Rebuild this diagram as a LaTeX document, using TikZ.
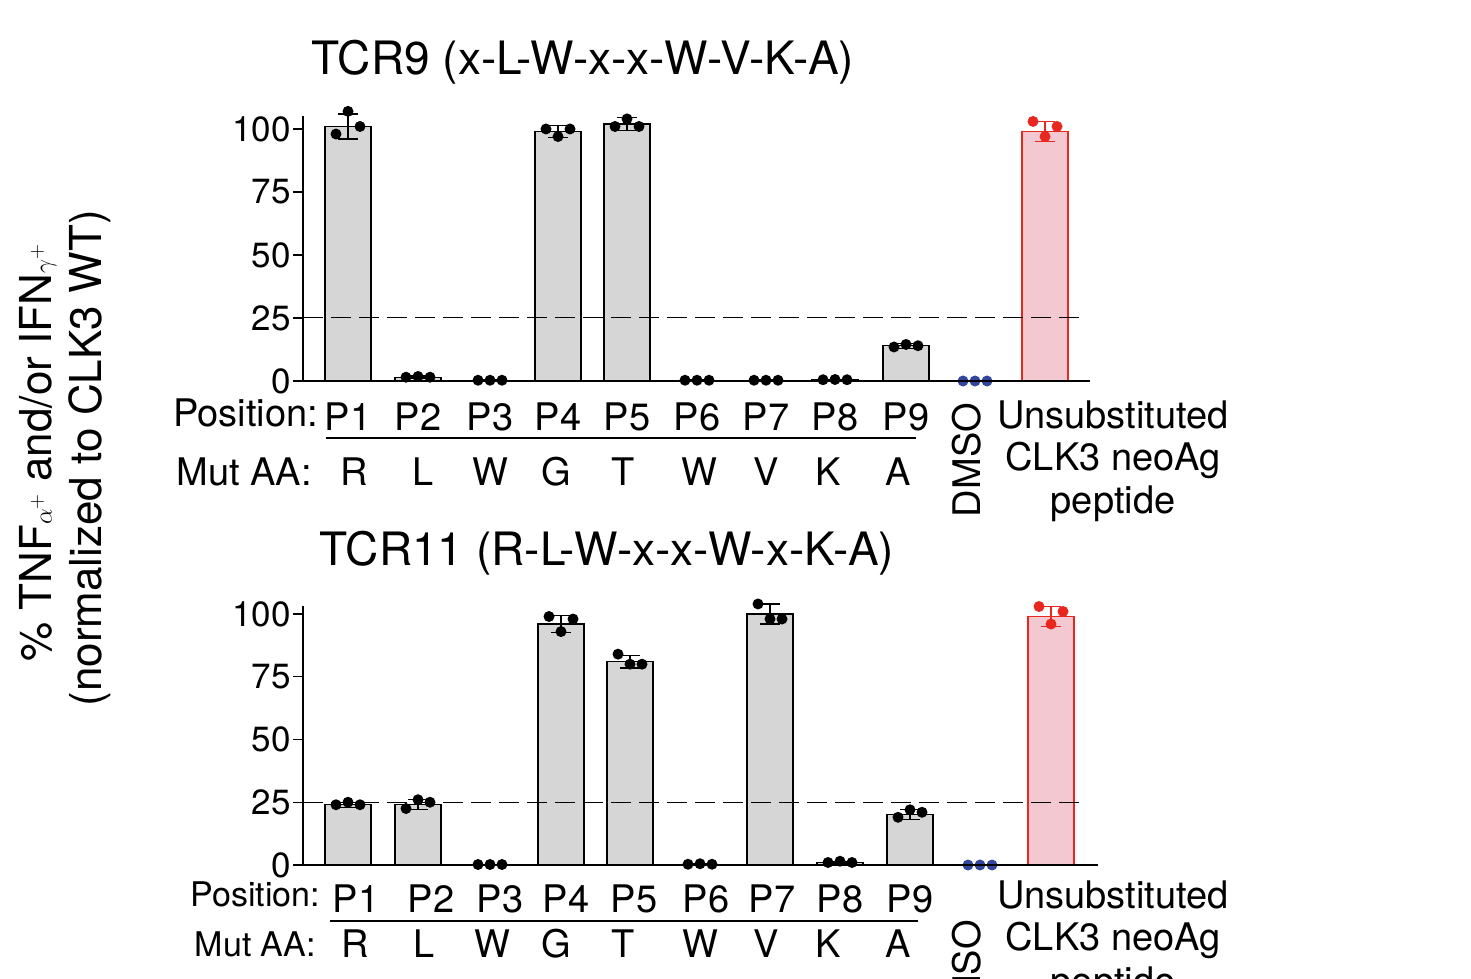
\documentclass[tikz,border=0pt]{standalone}
\usepackage{fontspec}
\setmainfont{TeX Gyre Heros}
\definecolor{barg}{RGB}{214,214,214}
\definecolor{pinkf}{RGB}{244,200,208}
\definecolor{redd}{RGB}{232,40,30}
\definecolor{blued}{RGB}{50,70,160}
\newcommand\mybar[8]{% x, mean, sd, d1,d2,d3, fill, edge/dot color
  \fill[#7] (#1-23,0) rectangle (#1+23,#2);
  \draw[#8,line width=1.3pt] (#1-23,0) -- (#1-23,#2) -- (#1+23,#2) -- (#1+23,0);
  \draw[#8,line width=1.3pt] (#1,#2-#3) -- (#1,#2+#3) (#1-10,#2-#3) -- (#1+10,#2-#3) (#1-10,#2+#3) -- (#1+10,#2+#3);
  \fill[#8] (#1-12,#4) circle[x=1pt,y=1pt,radius=5.5] (#1,#5) circle[x=1pt,y=1pt,radius=5.5] (#1+12,#6) circle[x=1pt,y=1pt,radius=5.5];
}
\newcommand\mydots[5]{\fill[#5] (#1-12,#2) circle[x=1pt,y=1pt,radius=5.5] (#1,#3) circle[x=1pt,y=1pt,radius=5.5] (#1+12,#4) circle[x=1pt,y=1pt,radius=5.5];}
\tikzset{tick/.style={font=\fontsize{35}{38}\selectfont,anchor=east,inner sep=2pt},
lab/.style={font=\fontsize{38}{42}\selectfont,inner sep=0pt},
ylab/.style={font=\fontsize{44}{48}\selectfont,inner sep=0pt},
ttl/.style={font=\fontsize{46}{50}\selectfont,inner sep=0pt}}
\begin{document}
\begin{tikzpicture}[x=1pt,y=1pt]
\useasboundingbox[fill=white] (0,0) rectangle (1471,978);
% y label
\node[ylab,rotate=90] (yl1) at (38,525) {\% TNF$\alpha^{\scriptscriptstyle +}$ and/or IFN$\gamma^{\scriptscriptstyle +}$};
\node[ylab,rotate=90] (yl2) at (90,520) {(normalized to CLK3 WT)};
% ===== top
\node[ttl] (t1) at (583,916) {TCR9 (x-L-W-x-x-W-V-K-A)};
\begin{scope}[shift={(0,597)},y=2.52pt]
\mybar{348}{101}{5}{98}{107}{101}{barg}{black}
\mybar{418}{1.5}{0.5}{1.5}{1.8}{1.5}{barg}{black}
\mybar{490}{0.3}{0.1}{0.3}{0.3}{0.3}{barg}{black}
\mybar{558}{99}{2.5}{100}{97}{100}{barg}{black}
\mybar{627}{102}{2.5}{101}{104}{101}{barg}{black}
\mybar{697}{0.3}{0.1}{0.3}{0.3}{0.3}{barg}{black}
\mybar{766}{0.3}{0.1}{0.3}{0.3}{0.3}{barg}{black}
\mybar{835}{0.5}{0.2}{0.5}{0.6}{0.5}{barg}{black}
\mybar{906}{14}{1}{13.5}{14.5}{14}{barg}{black}
\mydots{975}{0}{0}{0}{blued}
\mybar{1045}{99}{4}{103}{97}{101}{pinkf}{redd}
\draw[line width=1.3pt] (303,105) -- (303,0) -- (1090,0);
\foreach \v in {0,25,50,75,100}{\draw[line width=1.3pt] (303,\v) -- (293,\v); \node[tick] at (293,\v) {\v};}
\draw[dash pattern=on 20pt off 8pt,line width=1pt] (303,25) -- (1085,25);
\end{scope}
\node[lab,anchor=east] (pos1) at (318,565) {Position:};
\foreach \x/\t in {348/P1,418/P2,490/P3,558/P4,627/P5,697/P6,766/P7,835/P8,906/P9}{\node[lab] at (\x,561) {\t};}
\draw[line width=1.3pt] (326,540) -- (916,540);
\node[lab,anchor=east] (mut1) at (312,506) {Mut AA:};
\foreach \x/\t in {354/R,423/L,490/W,556/G,623/T,699/W,766/V,828/K,898/A}{\node[lab] at (\x,506) {\t};}
\node[lab,rotate=90] (dm1) at (967,518) {DMSO};
\node[lab] (u1) at (1113,563) {Unsubstituted};
\node[lab] (u2) at (1113,518) {CLK3 neoAg};
\node[lab] (u3) at (1113,474) {peptide};
% ===== bottom
\node[ttl] (t2) at (607,425) {TCR11 (R-L-W-x-x-W-x-K-A)};
\begin{scope}[shift={(0,113)},y=2.51pt]
\mybar{348}{24}{1}{24}{25}{24}{barg}{black}
\mybar{418}{24}{2}{22.5}{26}{25}{barg}{black}
\mybar{490}{0.2}{0.1}{0.2}{0.2}{0.2}{barg}{black}
\mybar{561}{96}{3.5}{99}{93}{98}{barg}{black}
\mybar{630}{81}{2.5}{84}{80}{80}{barg}{black}
\mybar{700}{0.3}{0.1}{0.3}{0.5}{0.3}{barg}{black}
\mybar{770}{100}{4}{104}{98}{98}{barg}{black}
\mybar{840}{1}{0.4}{1}{1.5}{1}{barg}{black}
\mybar{910}{20}{2}{19}{22}{21}{barg}{black}
\mydots{980}{0}{0}{0}{blued}
\mybar{1051}{99}{4}{103}{96}{101}{pinkf}{redd}
\draw[line width=1.3pt] (303,103) -- (303,0) -- (1098,0);
\foreach \v in {0,25,50,75,100}{\draw[line width=1.3pt] (303,\v) -- (293,\v); \node[tick] at (293,\v) {\v};}
\draw[dash pattern=on 20pt off 8pt,line width=1pt] (303,25) -- (1085,25);
\end{scope}
\node[lab,anchor=east,font=\fontsize{34}{38}\selectfont] (pos2) at (320,84) {Position:};
\foreach \x/\t in {356/P1,431/P2,500/P3,566/P4,634/P5,706/P6,772/P7,840/P8,910/P9}{\node[lab] at (\x,79) {\t};}
\draw[line width=1.3pt] (330,57) -- (918,57);
\node[lab,anchor=east,font=\fontsize{34}{38}\selectfont] (mut2) at (316,34) {Mut AA:};
\foreach \x/\t in {355/R,424/L,492/W,556/G,623/T,700/W,766/V,828/K,898/A}{\node[lab] at (\x,34) {\t};}
\node[lab,rotate=90,anchor=east] (dm2) at (967,58) {DMSO};
\node[lab] (v1) at (1113,83) {Unsubstituted};
\node[lab] (v2) at (1113,38) {CLK3 neoAg};
\node[lab] (v3) at (1113,-7) {peptide};
\end{tikzpicture}
\end{document}
